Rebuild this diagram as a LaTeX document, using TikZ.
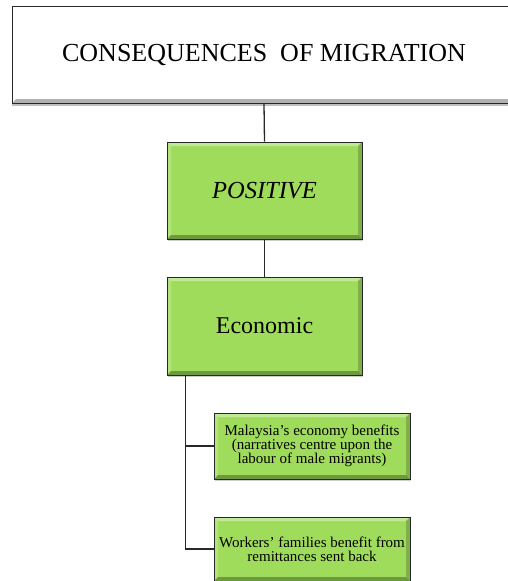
\documentclass[tikz,border=0pt]{standalone}
\usepackage{fontspec}
\setmainfont{Liberation Serif}
\newfontfamily\timesface{Liberation Serif}
\usetikzlibrary{shadows,calc}
\definecolor{leaf}{RGB}{160,220,92}
\definecolor{edge}{RGB}{40,40,40}
\tikzset{
  bevel/.style={
    path picture={
      \fill[white,opacity=.35] (path picture bounding box.north west) -- (path picture bounding box.north east)
        -- ([xshift=-#1,yshift=-#1]path picture bounding box.north east) -- ([xshift=#1,yshift=-#1]path picture bounding box.north west) -- cycle;
      \fill[white,opacity=.2] (path picture bounding box.north west) -- (path picture bounding box.south west)
        -- ([xshift=#1,yshift=#1]path picture bounding box.south west) -- ([xshift=#1,yshift=-#1]path picture bounding box.north west) -- cycle;
      \fill[black,opacity=.3] (path picture bounding box.south west) -- (path picture bounding box.south east)
        -- ([xshift=-#1,yshift=#1]path picture bounding box.south east) -- ([xshift=#1,yshift=#1]path picture bounding box.south west) -- cycle;
      \fill[black,opacity=.2] (path picture bounding box.north east) -- (path picture bounding box.south east)
        -- ([xshift=-#1,yshift=#1]path picture bounding box.south east) -- ([xshift=-#1,yshift=-#1]path picture bounding box.north east) -- cycle;
    }},
  titlebox/.style={draw=edge, line width=0.9pt, fill=white, bevel=4pt, inner sep=0pt,
    drop shadow={shadow xshift=0pt, shadow yshift=-2.5pt, opacity=.5}},
  greenbox/.style={draw=edge, line width=0.9pt, fill=leaf, bevel=4pt, inner sep=0pt,
    drop shadow={shadow xshift=1pt, shadow yshift=-1.5pt, opacity=.4}},
  leafbox/.style={greenbox, align=center, font=\timesface\fontsize{15}{13.8}\selectfont},
  link/.style={draw=edge, line width=1.3pt}
}
\begin{document}
\begin{tikzpicture}[x=1pt,y=-1pt]
\useasboundingbox (0,0) rectangle (507,581);
% headline box
\node[titlebox, minimum width=504pt, minimum height=97pt, font=\timesface\fontsize{26}{30}\selectfont]
  (top) at (264,54.5) {CONSEQUENCES~\ OF MIGRATION};
% category boxes
\node[greenbox, minimum width=195pt, minimum height=97pt, font=\timesface\fontsize{24.5}{28}\selectfont\itshape]
  (pos) at (264.5,190.5) {POSITIVE};
\node[greenbox, minimum width=195pt, minimum height=98pt, font=\timesface\fontsize{24}{28}\selectfont]
  (eco) at (264.5,326) {Economic};
% outcome boxes
\node[leafbox, minimum width=196pt, minimum height=66pt]
  (m1) at (312,446) {Malaysia’s economy benefits\\(narratives centre upon the\\labour of male migrants)};
\node[leafbox, minimum width=196pt, minimum height=64pt]
  (m2) at (312,549) {Workers’ families benefit from\\remittances sent back};
% connectors
\draw[link] (top.south) -- (pos.north);
\draw[link] (pos.south) -- (eco.north);
\draw[link] ([xshift=19pt]eco.south west) |- (m1.west);
\draw[link] ([xshift=19pt]eco.south west) |- (m2.west);
\end{tikzpicture}
\end{document}
